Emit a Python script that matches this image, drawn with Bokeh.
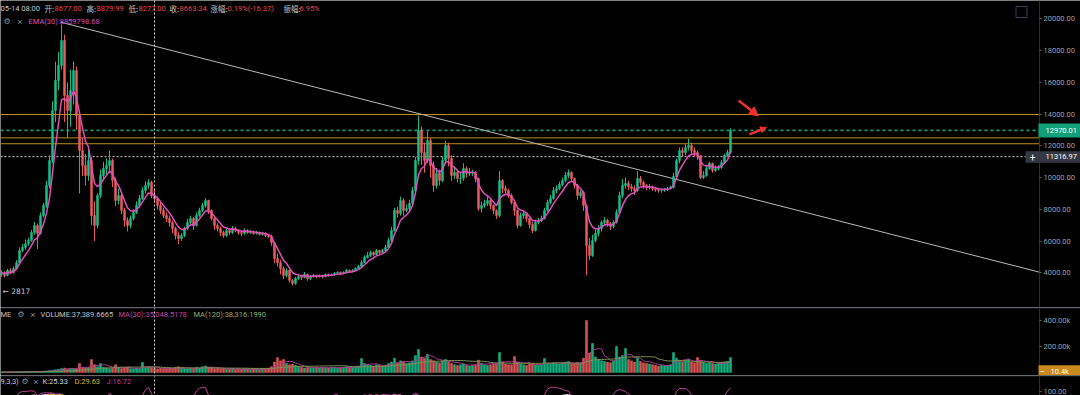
import numpy as np
import pandas as pd
from bokeh.plotting import figure
from bokeh.layouts import column
from bokeh.models import (ColumnDataSource, Range1d, FixedTicker, NumeralTickFormatter,
                          Span, Label, BoxAnnotation, Arrow, NormalHead, LinearAxis)
from bokeh.embed import file_html
from bokeh.resources import INLINE

# ---------------- data (~5 days per candle) ----------------
first_open = 3900
closes = [
    4000, 3830, 4150, 4000, 4260, 4630, 5400, 5600, 5830, 6030,
    6540, 6980, 6480, 7600, 8240, 9500, 11070, 14220, 16110, 17060,
    18630, 15170, 14220, 15480, 16740, 13900, 11700, 10760, 10130, 11070,
    7610, 6980, 8870, 10130, 10570, 10760, 11070, 9810, 8550, 8870,
    7930, 7300, 6980, 7420, 7800, 8240, 8680, 9190, 9500, 9690,
    8870, 8680, 8240, 7930, 7610, 7420, 7170, 6790, 6350, 6160,
    6350, 6790, 7170, 7420, 6980, 7610, 7930, 8240, 8550, 7930,
    7420, 6980, 6790, 6540, 6350, 6660, 6540, 6790, 6660, 6540,
    6480, 6660, 6540, 6600, 6480, 6540, 6410, 6480, 6350, 6290,
    5900, 4900, 4640, 4260, 3830, 4150, 3520, 3330, 3640, 3770,
    3700, 3890, 3640, 3770, 3830, 3770, 3830, 3770, 3890, 3830,
    3890, 3960, 4020, 3960, 4020, 4150, 4080, 4150, 4270, 4400,
    4650, 4960, 5090, 5280, 5150, 5400, 5280, 5400, 5600, 6030,
    6660, 7930, 7740, 8550, 7930, 8050, 8370, 9180, 11070, 12970,
    11580, 11070, 12330, 10760, 9500, 10260, 9810, 11070, 12020, 11200,
    10130, 10320, 9940, 9960, 10570, 10260, 10320, 10350, 9940, 8050,
    8240, 8370, 8550, 8240, 7930, 7610, 9810, 9310, 9180, 8870,
    8430, 7930, 6980, 7610, 7740, 7420, 7040, 6660, 7170, 7300,
    7420, 7930, 8430, 8680, 9180, 9310, 9560, 9810, 10130, 10320,
    9940, 9500, 8870, 9060, 8240, 5720, 5090, 6030, 6480, 6790,
    7170, 7300, 7110, 6920, 7170, 7800, 8870, 9500, 9620, 9430,
    9310, 9180, 9940, 9690, 9500, 9370, 9430, 9310, 9240, 9180,
    9200, 9240, 9310, 9370, 10070, 11070, 11700, 11580, 11890, 12020,
    11700, 11580, 11390, 10000, 10130, 10570, 10890, 10450, 10570, 10640,
    10950, 11390, 11580, 12970,
]
highs = [
    4150, 4100, 4250, 4300, 4400, 4800, 5600, 5800, 6100, 6200,
    6700, 7200, 7100, 7800, 8400, 9800, 11400, 14800, 17300, 17900,
    19650, 19000, 16000, 16800, 17300, 17000, 14200, 12500, 11500, 11800,
    11300, 8500, 9000, 10500, 11000, 11200, 11700, 11200, 10000, 9300,
    9000, 8100, 7500, 7600, 8000, 8500, 8900, 9400, 9750, 9900,
    9800, 9200, 8800, 8400, 8100, 7800, 7600, 7300, 6900, 6550,
    6500, 6900, 7400, 7600, 7500, 7800, 8100, 8400, 8700, 8600,
    8000, 7500, 7100, 6900, 6650, 6800, 6800, 6950, 6900, 6750,
    6650, 6800, 6750, 6700, 6650, 6650, 6600, 6580, 6550, 6450,
    6400, 5950, 5200, 4800, 4400, 4300, 4200, 3600, 3750, 3900,
    3850, 4050, 3950, 3850, 3950, 3900, 3900, 3880, 3950, 3950,
    3950, 4050, 4100, 4080, 4100, 4250, 4200, 4230, 4350, 4500,
    4800, 5100, 5300, 5400, 5350, 5500, 5450, 5500, 5750, 6200,
    6900, 8100, 8150, 8800, 8700, 8300, 8600, 9400, 11300, 13900,
    13200, 12200, 12900, 12500, 11000, 10600, 10500, 11300, 12300, 12200,
    11400, 10700, 10500, 10300, 10900, 10700, 10600, 10500, 10400, 10000,
    8500, 8600, 8800, 8650, 8300, 8000, 10400, 9900, 9500, 9300,
    9000, 8500, 8000, 7800, 7900, 7800, 7500, 7200, 7350, 7450,
    7600, 8100, 8600, 8900, 9400, 9500, 9750, 10000, 10350, 10500,
    10400, 10000, 9600, 9200, 9150, 8300, 6200, 6400, 6800, 7000,
    7300, 7500, 7400, 7200, 7300, 8000, 9100, 9900, 10000, 9800,
    9600, 9500, 10400, 10100, 9800, 9600, 9600, 9500, 9400, 9350,
    9300, 9350, 9400, 9500, 10300, 11200, 11900, 11900, 12100, 12450,
    12200, 11900, 11700, 11400, 10400, 10800, 11000, 10950, 10750, 10800,
    11100, 11500, 11750, 13100,
]
lows = [
    3750, 3700, 3780, 3900, 3950, 4200, 4550, 5300, 5450, 5700,
    5950, 6400, 5500, 6400, 7500, 8100, 9300, 10900, 13500, 15500,
    16800, 13500, 12500, 13200, 14600, 13000, 9000, 10100, 9500, 9800,
    7000, 6000, 6800, 8700, 9800, 10200, 10300, 9400, 8200, 8300,
    7700, 6900, 6600, 6800, 7300, 7700, 8100, 8600, 9000, 9300,
    8700, 8400, 8000, 7700, 7450, 7200, 6900, 6500, 6100, 5800,
    6000, 6250, 6700, 7000, 6700, 6900, 7500, 7800, 8100, 7700,
    7300, 6700, 6600, 6300, 6200, 6250, 6400, 6450, 6550, 6400,
    6300, 6400, 6450, 6450, 6400, 6400, 6350, 6350, 6250, 6200,
    5700, 4600, 4400, 3900, 3600, 3700, 3400, 3200, 3250, 3550,
    3550, 3650, 3500, 3550, 3700, 3650, 3700, 3650, 3720, 3750,
    3780, 3820, 3900, 3850, 3900, 3950, 4000, 4030, 4100, 4200,
    4350, 4600, 4900, 5000, 5050, 5100, 5150, 5200, 5300, 5500,
    5950, 6600, 7500, 7600, 7600, 7800, 7900, 8200, 9000, 10800,
    10800, 10300, 10900, 10000, 9100, 9300, 9500, 9700, 10900, 10700,
    9800, 9900, 9700, 9600, 9800, 10000, 10100, 10100, 9700, 7900,
    7800, 8100, 8200, 8000, 7700, 7400, 7500, 9000, 9000, 8700,
    8300, 7600, 6800, 6900, 7400, 7200, 6800, 6500, 6600, 7050,
    7200, 7350, 7850, 8300, 8600, 9000, 9200, 9450, 9700, 9950,
    9700, 9300, 8600, 8700, 7900, 3850, 4800, 5000, 5900, 6300,
    6600, 7000, 6900, 6700, 6800, 7100, 7700, 8700, 9300, 9200,
    9100, 8900, 9100, 9500, 9300, 9200, 9250, 9150, 9100, 9050,
    9050, 9100, 9150, 9250, 9300, 10000, 10900, 11300, 11400, 11700,
    11500, 11300, 11100, 9900, 9900, 10050, 10500, 10300, 10350, 10450,
    10550, 10850, 11300, 11500,
]
volumes_k = [
    3, 4, 3, 4, 5, 4, 6, 6, 5, 7,
    7, 8, 9, 8, 10, 12, 15, 18, 22, 25,
    30, 35, 28, 32, 30, 28, 70, 40, 35, 38,
    100, 60, 45, 70, 40, 35, 30, 32, 60, 35,
    30, 35, 40, 30, 28, 32, 30, 77, 35, 40,
    38, 30, 28, 32, 30, 28, 35, 30, 40, 45,
    35, 30, 28, 32, 30, 40, 35, 45, 50, 40,
    35, 30, 32, 28, 30, 25, 28, 30, 25, 28,
    25, 30, 28, 25, 30, 28, 25, 30, 28, 35,
    45, 80, 115, 90, 100, 70, 60, 65, 55, 45,
    40, 35, 40, 38, 35, 40, 35, 38, 36, 35,
    38, 40, 35, 38, 40, 45, 42, 40, 45, 50,
    108, 70, 60, 55, 50, 60, 55, 50, 55, 70,
    80, 110, 75, 90, 80, 70, 75, 90, 130, 177,
    120, 110, 140, 100, 90, 80, 75, 90, 100, 85,
    70, 60, 55, 60, 65, 55, 50, 55, 60, 95,
    70, 60, 55, 60, 65, 70, 154, 80, 65, 60,
    60, 123, 80, 65, 60, 55, 65, 70, 60, 55,
    60, 108, 65, 70, 75, 70, 65, 75, 80, 85,
    70, 65, 75, 70, 110, 400, 150, 223, 120, 100,
    90, 85, 80, 75, 90, 200, 120, 130, 185, 100,
    90, 80, 110, 85, 75, 70, 65, 60, 55, 50,
    55, 50, 55, 60, 154, 110, 95, 85, 90, 100,
    80, 75, 115, 95, 80, 70, 75, 70, 65, 70,
    75, 80, 85, 115,
]

price_ticks = [4000, 6000, 8000, 10000, 12000, 14000, 16000, 18000, 20000]
volume_ticks = [200, 400]
volume_tick_labels = {200: "200.00k", 400: "400.00k"}
kdj_ticks = [100]
golden_levels = [13970, 12500, 12130]
last_price = 12970.01
cursor_price = 11316.97
cursor_index = 51
current_volume_k = 10.4
low_marker = 2817
trend_idx = [19.7, 346.0]
trend_price = [19790, 4040]
arrow_idx_start = [245.7, 249.3]
arrow_price_start = [14850, 12720]
arrow_idx_end = [252.3, 255.0]
arrow_price_end = [13880, 13150]
ema_span = 6          # 30 days at ~5 days per candle
vol_ma_windows = (6, 24)
kdj_n = 9

# ---------------- derived series ----------------
n = len(closes)
idx = np.arange(n)
opens = [first_open] + closes[:-1]
o = np.array(opens, float); c = np.array(closes, float)
h = np.maximum(np.array(highs, float), np.maximum(o, c))
l = np.minimum(np.array(lows, float), np.minimum(o, c))
up = c >= o
UP, DOWN = "#17bf88", "#ea5c5c"
colors = [UP if u else DOWN for u in up]
ema = pd.Series(c).ewm(span=ema_span, adjust=False).mean().values
vol = np.array(volumes_k, float)
ma_short = pd.Series(vol).rolling(vol_ma_windows[0], min_periods=1).mean().values
ma_long = pd.Series(vol).rolling(vol_ma_windows[1], min_periods=1).mean().values

hh = pd.Series(h).rolling(kdj_n, min_periods=1).max().values
ll = pd.Series(l).rolling(kdj_n, min_periods=1).min().values
rng = np.where(hh > ll, hh - ll, 1.0)
rsv = np.where(hh > ll, (c - ll) / rng * 100, 50)
K = np.zeros(n); D = np.zeros(n)
kp, dp = 50.0, 50.0
for i in range(n):
    kp = 2 / 3 * kp + rsv[i] / 3
    dp = 2 / 3 * dp + kp / 3
    K[i], D[i] = kp, dp
J = 3 * K - 2 * D

src = ColumnDataSource(dict(x=idx, o=o, c=c, h=h, l=l,
                            top=np.maximum(o, c), bot=np.minimum(o, c),
                            color=colors, vol=vol))

BG = "#000000"
AXIS = "#2a2e39"
TICKLBL = "#9c9fa8"
LBL = "#c3c6cc"
RED = "#e5484d"
CJK = "Noto Sans CJK SC"
W = 1080
XR = (-1 / 3, 359.667)   # index range across the full 1080 px
AX_X = 346.0             # index at which the price scale sits


def base_fig(h_px, yr, ticks, fmt=None, overrides=None):
    f = figure(width=W, height=h_px, x_range=Range1d(*XR), y_range=Range1d(*yr),
               output_backend="svg", toolbar_location=None, title=None,
               x_axis_location=None, y_axis_location=None,
               background_fill_color=BG, border_fill_color=BG, min_border=0)
    f.outline_line_color = None
    f.grid.visible = False
    ax = LinearAxis(fixed_location=AX_X, ticker=FixedTicker(ticks=ticks))
    if fmt:
        ax.formatter = NumeralTickFormatter(format=fmt)
    if overrides:
        ax.major_label_overrides = overrides
    ax.axis_line_color = AXIS
    ax.major_tick_line_color = "#5b5f6b"
    ax.minor_tick_line_color = None
    ax.major_tick_in = 0
    ax.major_tick_out = 2
    ax.major_label_standoff = 2
    ax.major_label_text_color = TICKLBL
    ax.major_label_text_font = "Roboto"
    ax.major_label_text_font_size = "7.5px"
    f.add_layout(ax, "right")
    f.add_layout(Span(location=cursor_index, dimension="height", line_color="#cfcfcf",
                      line_dash="2 2", line_width=1))
    return f


def label(f, x, y, text, color, font="Roboto", size="7.5px", align="left", y_units="screen"):
    f.add_layout(Label(x=x, y=y, x_units="screen", y_units=y_units, text=text,
                       text_color=color, text_font=font, text_font_size=size,
                       text_align=align, text_baseline="middle"))


def sbox(f, left, right, bottom, top, fill, line=None):
    f.add_layout(BoxAnnotation(left=left, right=right, bottom=bottom, top=top,
                               left_units="screen", right_units="screen",
                               bottom_units="screen", top_units="screen",
                               fill_color=fill, fill_alpha=1 if fill else 0,
                               line_color=line, line_alpha=1 if line else 0, line_width=1))


# ---------------- main price panel ----------------
HM = 307
p = base_fig(HM, (1814, 21153), price_ticks, fmt="0.00")

p.segment(x0=XR[0], x1=AX_X, y0=golden_levels, y1=golden_levels,
          line_color="#b8911d", line_width=1)
p.segment(x0=XR[0], x1=AX_X, y0=last_price, y1=last_price, line_color="#159c73",
          line_dash="3 3", line_width=1.6)
p.segment(x0=XR[0], x1=AX_X, y0=cursor_price, y1=cursor_price, line_color="#cfcfcf",
          line_dash="2 2", line_width=1)

p.line(trend_idx, trend_price, line_color="#b9b9b9", line_width=1)
p.segment(x0="x", y0="h", x1="x", y1="l", color="color", line_width=1, source=src)
p.vbar(x="x", width=0.68, top="top", bottom="bot", fill_color="color",
       line_color="color", line_width=0.5, source=src)
p.line(idx, ema, line_color="#e24cc0", line_width=1.5)

for xs, ys, xe, ye, hs in zip(arrow_idx_start, arrow_price_start, arrow_idx_end,
                              arrow_price_end, [9, 6]):
    p.add_layout(Arrow(end=NormalHead(size=hs, fill_color="#f0302a", line_color="#f0302a"),
                       x_start=xs, y_start=ys, x_end=xe, y_end=ye,
                       line_color="#f0302a", line_width=2.5))

# header row
hy = HM - 8
label(p, 0, hy, "05-14 08:00", LBL)
for t, x in [("开:", 44), ("高:", 86), ("低:", 128), ("收:", 169), ("涨幅:", 210), ("振幅:", 283)]:
    label(p, x, hy, t, LBL, font=CJK)
for t, x in [("8677.00", 54), ("8879.99", 96), ("8277.00", 138), ("8663.34", 179),
             ("-0.19%(-16.37)", 225), ("6.95%", 299)]:
    label(p, x, hy, t, RED)
# second row
ry = HM - 21
label(p, 3, ry, "⚙", "#8b8e97", font="DejaVu Sans", size="8px")
label(p, 17, ry, "×", "#8b8e97", size="9px")
label(p, 28, ry, "EMA(30):8859798.68", "#d64fb8")
# low marker
label(p, 2, low_marker, "← 2817", LBL, font="DejaVu Sans", size="7.5px", y_units="data")
# expand icon
sbox(p, 1015.5, 1026.5, HM - 17, HM - 6, None, "#3b4058")
# price tags on the axis
sbox(p, 1038, 1080, HM - 137, HM - 123, "#12a078")
label(p, 1045, last_price, "12970.01", "#ffffff", y_units="data")
sbox(p, 1025, 1080, HM - 162.3, HM - 150.7, "#343844")
label(p, 1032, cursor_price, "+", "#ffffff", size="10px", align="center", y_units="data")
label(p, 1045, cursor_price, "11316.97", "#ffffff", y_units="data")

# ---------------- volume panel ----------------
HV = 68
v = base_fig(HV, (-23, 500), volume_ticks, overrides=volume_tick_labels)
v.vbar(x="x", width=0.68, top="vol", bottom=0, fill_color="color", line_color="color",
       line_width=0.5, fill_alpha=0.9, source=src)
v.line(idx, ma_short, line_color="#a63c90", line_width=1)
v.line(idx, ma_long, line_color="#7f8f56", line_width=1)
sbox(v, 0, 1080, HV - 1, HV, "#22252e")
vy = HV - 7
label(v, 0, vy, "ME", LBL)
label(v, 17, vy, "⚙", "#8b8e97", font="DejaVu Sans", size="8px")
label(v, 30, vy, "×", "#8b8e97", size="9px")
label(v, 40, vy, "VOLUME:37,389.6665", LBL)
label(v, 118, vy, "MA(30):35,048.5178", "#c0479e")
label(v, 193, vy, "MA(120):38,316.1990", "#9aab6a")
sbox(v, 1038, 1080, 0.3, 10.3, "#c8891d")
label(v, 1039, current_volume_k, "–", "#ffffff", size="8px", y_units="data")
label(v, 1050, current_volume_k, "10.4k", "#ffffff", y_units="data")

# ---------------- KDJ panel ----------------
HK = 20
k = base_fig(HK, (89, 149), kdj_ticks, fmt="0.00")
k.line(idx, K, line_color="#d8d8d8", line_width=1)
k.line(idx, D, line_color="#d4b52a", line_width=1)
k.line(idx, J, line_color="#c23d9e", line_width=1)
sbox(k, 0, 1080, HK - 1, HK, "#22252e")
ky = HK - 6
label(k, 0, ky, "9,3,3)", LBL)
label(k, 21, ky, "⚙", "#8b8e97", font="DejaVu Sans", size="8px")
label(k, 33, ky, "×", "#8b8e97", size="9px")
label(k, 42, ky, "K:25.33", "#d8d8d8")
label(k, 74, ky, "D:29.63", "#d4b52a")
label(k, 106, ky, "J:16.72", "#c23d9e")

layout = column(p, v, k)
open("out.html", "w").write(file_html(layout, INLINE))
